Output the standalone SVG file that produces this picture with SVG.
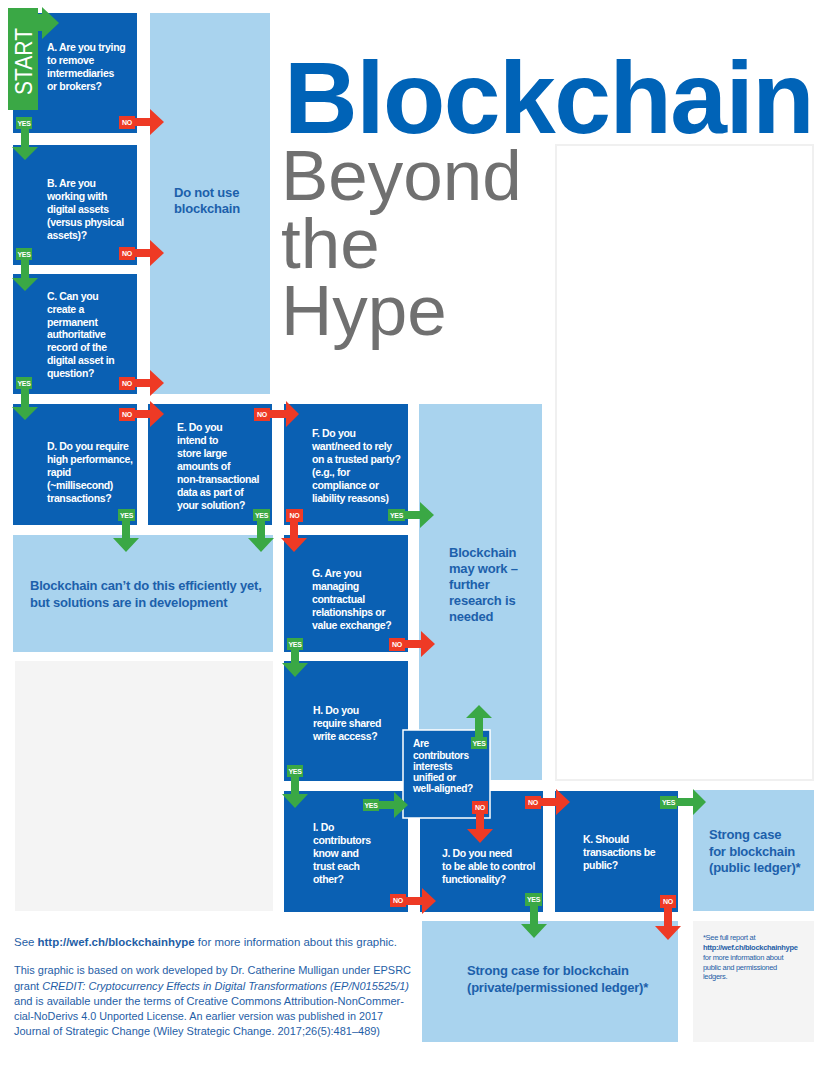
<svg xmlns="http://www.w3.org/2000/svg" width="840" height="1086" viewBox="0 0 840 1086">
<style>
.dk{fill:#0a60b3}
.lt{fill:#a9d3ee}
.gr{fill:#f4f4f4}
.q{font-family:"Liberation Sans",Arial,sans-serif;font-weight:bold;font-size:10.5px;fill:#fff;letter-spacing:-0.35px}
.r{font-family:"Liberation Sans",Arial,sans-serif;font-weight:bold;font-size:13px;fill:#1c60ab;letter-spacing:-0.2px}
.yes{fill:#3aa845}
.no{fill:#ee3a25}
.tg{font-family:"Liberation Sans",Arial,sans-serif;font-weight:bold;font-size:7px;fill:#fff;text-anchor:middle;letter-spacing:-0.3px}
.ft{font-family:"Liberation Sans",Arial,sans-serif;font-size:11px;fill:#1f5ea6}
.fn{font-family:"Liberation Sans",Arial,sans-serif;font-size:7.5px;fill:#1f5ea6;letter-spacing:-0.3px}
</style>
<rect width="840" height="1086" fill="#fff"/>

<g id="title">
<text x="284" y="133" font-family="Liberation Sans,Arial,sans-serif" font-weight="bold" font-size="102" fill="#0063b7" letter-spacing="-1.5">Blockchain</text>
<text font-family="Liberation Sans,Arial,sans-serif" font-size="71" fill="#707070"><tspan x="281" y="200">Beyond</tspan><tspan x="281" y="268">the</tspan><tspan x="281" y="335">Hype</tspan></text>
</g>

<g id="panel"><rect x="556" y="145" width="257" height="635" fill="#fff" stroke="#f0f0f0" stroke-width="2"/></g>

<g id="node-a"><rect class="dk" x="13" y="13" width="124" height="120"/>
<text class="q"><tspan x="47" y="51">A. Are you trying</tspan><tspan x="47" y="64">to remove</tspan><tspan x="47" y="77">intermediaries</tspan><tspan x="47" y="90">or brokers?</tspan></text></g>

<g id="node-donotuse"><rect class="lt" x="150" y="13" width="120" height="381"/>
<text class="r"><tspan x="174" y="197">Do not use</tspan><tspan x="174" y="213">blockchain</tspan></text></g>

<g id="node-b"><rect class="dk" x="13" y="145" width="124" height="120"/>
<text class="q"><tspan x="47" y="187">B. Are you</tspan><tspan x="47" y="200">working with</tspan><tspan x="47" y="213">digital assets</tspan><tspan x="47" y="226">(versus physical</tspan><tspan x="47" y="239">assets)?</tspan></text></g>

<g id="node-c"><rect class="dk" x="13" y="274" width="124" height="120"/>
<text class="q"><tspan x="47" y="300">C. Can you</tspan><tspan x="47" y="313">create a</tspan><tspan x="47" y="326">permanent</tspan><tspan x="47" y="338">authoritative</tspan><tspan x="47" y="351">record of the</tspan><tspan x="47" y="364">digital asset in</tspan><tspan x="47" y="377">question?</tspan></text></g>

<g id="node-d"><rect class="dk" x="13" y="404" width="124" height="121"/>
<text class="q"><tspan x="47" y="450">D. Do you require</tspan><tspan x="47" y="463">high performance,</tspan><tspan x="47" y="476">rapid</tspan><tspan x="47" y="489">(~millisecond)</tspan><tspan x="47" y="502">transactions?</tspan></text></g>

<g id="node-e"><rect class="dk" x="148" y="404" width="124" height="121"/>
<text class="q"><tspan x="177" y="431">E. Do you</tspan><tspan x="177" y="444">intend to</tspan><tspan x="177" y="457">store large</tspan><tspan x="177" y="470">amounts of</tspan><tspan x="177" y="483">non-transactional</tspan><tspan x="177" y="496">data as part of</tspan><tspan x="177" y="509">your solution?</tspan></text></g>

<g id="node-f"><rect class="dk" x="284" y="404" width="124" height="121"/>
<text class="q"><tspan x="312" y="437">F. Do you</tspan><tspan x="312" y="450">want/need to rely</tspan><tspan x="312" y="463">on a trusted party?</tspan><tspan x="312" y="476">(e.g., for</tspan><tspan x="312" y="489">compliance or</tspan><tspan x="312" y="502">liability reasons)</tspan></text></g>

<g id="node-maywork"><rect class="lt" x="419" y="404" width="123" height="376"/>
<text class="r"><tspan x="449" y="557">Blockchain</tspan><tspan x="449" y="573">may work –</tspan><tspan x="449" y="589">further</tspan><tspan x="449" y="605">research is</tspan><tspan x="449" y="621">needed</tspan></text></g>

<g id="node-cant"><rect class="lt" x="13" y="535" width="260" height="117"/>
<text class="r"><tspan x="30" y="590">Blockchain can’t do this efficiently yet,</tspan><tspan x="30" y="607">but solutions are in development</tspan></text></g>

<g id="node-g"><rect class="dk" x="284" y="535" width="124" height="117"/>
<text class="q"><tspan x="312" y="577">G. Are you</tspan><tspan x="312" y="590">managing</tspan><tspan x="312" y="603">contractual</tspan><tspan x="312" y="616">relationships or</tspan><tspan x="312" y="629">value exchange?</tspan></text></g>

<g id="node-blank"><rect class="gr" x="15" y="661" width="258" height="250"/></g>

<g id="node-h"><rect class="dk" x="284" y="661" width="124" height="120"/>
<text class="q"><tspan x="313" y="714">H. Do you</tspan><tspan x="313" y="727">require shared</tspan><tspan x="313" y="740">write access?</tspan></text></g>

<g id="node-i"><rect class="dk" x="284" y="791" width="124" height="121"/>
<text class="q"><tspan x="313" y="831">I. Do</tspan><tspan x="313" y="844">contributors</tspan><tspan x="313" y="857">know and</tspan><tspan x="313" y="870">trust each</tspan><tspan x="313" y="883">other?</tspan></text></g>

<g id="node-j"><rect class="dk" x="420" y="791" width="123" height="121"/>
<text class="q"><tspan x="442" y="857">J. Do you need</tspan><tspan x="442" y="870">to be able to control</tspan><tspan x="442" y="883">functionality?</tspan></text></g>

<g id="node-k"><rect class="dk" x="555" y="791" width="123" height="121"/>
<text class="q"><tspan x="583" y="843">K. Should</tspan><tspan x="583" y="856">transactions be</tspan><tspan x="583" y="869">public?</tspan></text></g>

<g id="node-public"><rect class="lt" x="693" y="790" width="121" height="121"/>
<text class="r"><tspan x="709" y="839">Strong case</tspan><tspan x="709" y="856">for blockchain</tspan><tspan x="709" y="872">(public ledger)*</tspan></text></g>

<g id="node-private"><rect class="lt" x="422" y="921" width="256" height="121"/>
<text class="r"><tspan x="467" y="975">Strong case for blockchain</tspan><tspan x="467" y="992">(private/permissioned ledger)*</tspan></text></g>

<g id="node-footnote"><rect class="gr" x="693" y="921" width="121" height="121"/>
<text class="fn"><tspan x="703" y="940">*See full report at</tspan><tspan x="703" y="950" font-weight="bold">http://wef.ch/blockchainhype</tspan><tspan x="703" y="960">for more information about</tspan><tspan x="703" y="970">public and permissioned</tspan><tspan x="703" y="979">ledgers.</tspan></text></g>

<g id="node-aligned"><rect class="dk" x="403" y="730" width="87" height="88" stroke="#fff" stroke-width="1.5"/>
<text class="q" style="font-size:10.2px"><tspan x="413" y="747">Are</tspan><tspan x="413" y="759">contributors</tspan><tspan x="413" y="770">interests</tspan><tspan x="413" y="781">unified or</tspan><tspan x="413" y="792">well-aligned?</tspan></text></g>

<g id="node-start">
<rect class="yes" x="8" y="8" width="30" height="102"/>
<polygon class="yes" points="38,14 42,14 42,7 59,23 42,39 42,31 38,31"/>
<text transform="translate(32,95) rotate(-90)" font-family="Liberation Sans,Arial,sans-serif" font-size="24" fill="#fff" textLength="67" lengthAdjust="spacingAndGlyphs">START</text>
</g>

<g id="connectors">
<polygon class="yes" points="21,129 29,129 29,147 38,147 25,160 12,147 21,147"/>
<rect class="yes" x="16" y="117" width="16" height="12"/><text class="tg" x="24" y="125.6">YES</text>
<polygon class="no" points="135,118 150,118 150,109 164,122 150,135 150,126 135,126"/>
<rect class="no" x="119" y="116" width="16" height="13"/><text class="tg" x="127" y="125">NO</text>
<polygon class="yes" points="21,260 29,260 29,278 38,278 25,291 12,278 21,278"/>
<rect class="yes" x="16" y="248" width="16" height="12"/><text class="tg" x="24" y="256.6">YES</text>
<polygon class="no" points="135,249 150,249 150,240 164,253 150,266 150,257 135,257"/>
<rect class="no" x="119" y="247" width="16" height="13"/><text class="tg" x="127" y="256">NO</text>
<polygon class="yes" points="21,389 29,389 29,407 38,407 25,420 12,407 21,407"/>
<rect class="yes" x="16" y="377" width="16" height="12"/><text class="tg" x="24" y="385.6">YES</text>
<polygon class="no" points="135,379 150,379 150,370 164,383 150,396 150,387 135,387"/>
<rect class="no" x="119" y="377" width="16" height="13"/><text class="tg" x="127" y="386">NO</text>
<polygon class="no" points="135,410 150,410 150,401 164,414 150,427 150,418 135,418"/>
<rect class="no" x="119" y="408" width="16" height="13"/><text class="tg" x="127" y="417">NO</text>
<polygon class="yes" points="122,521 130,521 130,538 139,538 126,552 113,538 122,538"/>
<rect class="yes" x="118" y="509" width="17" height="12"/><text class="tg" x="126.5" y="517.6">YES</text>
<polygon class="no" points="270,410 286,410 286,401 299,414 286,427 286,418 270,418"/>
<rect class="no" x="254" y="408" width="16" height="13"/><text class="tg" x="262" y="417">NO</text>
<polygon class="yes" points="257,521 265,521 265,538 274,538 261,552 248,538 257,538"/>
<rect class="yes" x="253" y="509" width="17" height="12"/><text class="tg" x="261.5" y="517.6">YES</text>
<polygon class="no" points="290,521 298,521 298,538 307,538 294,552 281,538 290,538"/>
<rect class="no" x="286" y="509" width="17" height="13"/><text class="tg" x="294.5" y="518">NO</text>
<polygon class="yes" points="405,511 420,511 420,502 434,515 420,528 420,519 405,519"/>
<rect class="yes" x="388" y="509" width="17" height="12"/><text class="tg" x="396.5" y="517.6">YES</text>
<polygon class="yes" points="291,650 299,650 299,663 308,663 295,677 282,663 291,663"/>
<rect class="yes" x="287" y="638" width="16" height="12"/><text class="tg" x="295" y="646.6">YES</text>
<polygon class="no" points="405,640 421,640 421,631 435,644 421,657 421,648 405,648"/>
<rect class="no" x="389" y="638" width="16" height="13"/><text class="tg" x="397" y="647">NO</text>
<polygon class="yes" points="291,777 299,777 299,794 308,794 295,808 282,794 291,794"/>
<rect class="yes" x="287" y="765" width="16" height="12"/><text class="tg" x="295" y="773.6">YES</text>
<polygon class="yes" points="379,801 394,801 394,792 408,805 394,818 394,809 379,809"/>
<rect class="yes" x="363" y="799" width="16" height="12"/><text class="tg" x="371" y="807.6">YES</text>
<polygon class="no" points="406,897 422,897 422,888 436,901 422,914 422,905 406,905"/>
<rect class="no" x="390" y="894" width="16" height="13"/><text class="tg" x="398" y="903">NO</text>
<polygon class="yes" points="475,737 483,737 483,718 492,718 479,705 466,718 475,718"/>
<rect class="yes" x="471" y="737" width="16" height="12"/><text class="tg" x="479" y="745.6">YES</text>
<polygon class="no" points="476,814 484,814 484,829 493,829 480,843 467,829 476,829"/>
<rect class="no" x="472" y="801" width="16" height="13"/><text class="tg" x="480" y="810">NO</text>
<polygon class="no" points="541,798 556,798 556,789 570,802 556,815 556,806 541,806"/>
<rect class="no" x="525" y="796" width="16" height="13"/><text class="tg" x="533" y="805">NO</text>
<polygon class="yes" points="530,906 538,906 538,924 547,924 534,938 521,924 530,924"/>
<rect class="yes" x="525" y="893" width="17" height="13"/><text class="tg" x="533.5" y="902">YES</text>
<polygon class="yes" points="677,798 693,798 693,789 706,802 693,815 693,806 677,806"/>
<rect class="yes" x="660" y="796" width="17" height="13"/><text class="tg" x="668.5" y="805">YES</text>
<polygon class="no" points="664,908 672,908 672,926 681,926 668,940 655,926 664,926"/>
<rect class="no" x="660" y="895" width="16" height="13"/><text class="tg" x="668" y="904">NO</text>
</g>

<g id="credits">
<text class="ft" x="14" y="946" textLength="383" lengthAdjust="spacingAndGlyphs">See <tspan font-weight="bold">http://wef.ch/blockchainhype</tspan> for more information about this graphic.</text>
<text class="ft" x="14" y="974" textLength="397" lengthAdjust="spacingAndGlyphs">This graphic is based on work developed by Dr. Catherine Mulligan under EPSRC</text>
<text class="ft" x="14" y="990" textLength="395" lengthAdjust="spacingAndGlyphs">grant <tspan font-style="italic">CREDIT: Cryptocurrency Effects in Digital Transformations (EP/N015525/1)</tspan></text>
<text class="ft" x="14" y="1005" textLength="390" lengthAdjust="spacingAndGlyphs">and is available under the terms of Creative Commons Attribution-NonCommer-</text>
<text class="ft" x="14" y="1020" textLength="369" lengthAdjust="spacingAndGlyphs">cial-NoDerivs 4.0 Unported License. An earlier version was published in 2017</text>
<text class="ft" x="14" y="1035" textLength="366" lengthAdjust="spacingAndGlyphs">Journal of Strategic Change (Wiley Strategic Change. 2017;26(5):481–489)</text>
</g>
</svg>
